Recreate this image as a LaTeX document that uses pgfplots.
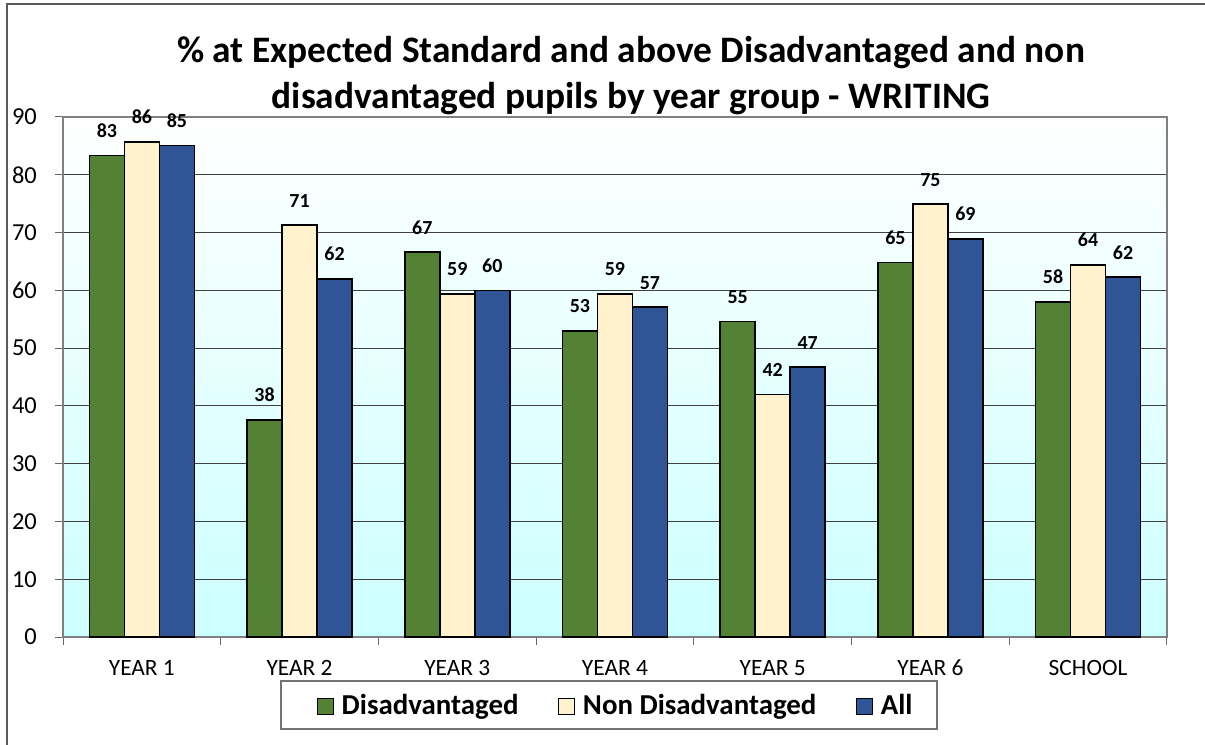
\documentclass[border=0pt]{standalone}
\usepackage{fontspec}
\setmainfont{Carlito}
\usepackage{pgfplots}
\pgfplotsset{compat=1.18}
\definecolor{cgreen}{RGB}{84,130,53}
\definecolor{ccream}{RGB}{255,242,204}
\definecolor{cblue}{RGB}{47,85,151}
\definecolor{cbg}{RGB}{204,255,255}
\begin{document}
\begin{tikzpicture}
\path[use as bounding box] (0,0) rectangle (1205bp,745bp);
\draw[black!65, line width=1.5bp] (7bp,0) -- (7bp,741bp) -- (1205bp,741bp);
\node[font=\fontsize{37.5}{42}\selectfont\bfseries, anchor=base, inner sep=0pt] at (631bp,682bp) {\% at Expected Standard and above Disadvantaged and non};
\node[font=\fontsize{37.5}{42}\selectfont\bfseries, anchor=base, inner sep=0pt] at (631bp,636bp) {disadvantaged pupils by year group - WRITING};
\draw[black!55, line width=1.2bp] (281bp,16bp) rectangle (937bp,64bp);
\begin{axis}[
  at={(63bp,108bp)}, anchor=south west,
  scale only axis, width=1104bp, height=520bp,
  xmin=-0.5, xmax=6.5, ymin=0, ymax=90,
  ytick={0,10,...,90},
  xtick={0,...,6},
  xticklabels={YEAR 1,YEAR 2,YEAR 3,YEAR 4,YEAR 5,YEAR 6,SCHOOL},
  minor xtick={-0.5,0.5,...,6.5},
  tick pos=left,
  tick align=outside,
  major tick length=8bp, minor tick length=8bp,
  major x tick style={draw=none},
  every tick/.style={black!60, line width=1bp},
  /pgf/number format/assume math mode=true,
  yticklabel style={font=\fontsize{24.5}{28}\selectfont, anchor=east, inner sep=0pt, xshift=-18bp},
  xticklabel style={font=\fontsize{23.5}{28}\selectfont, anchor=base, inner sep=0pt, yshift=-30bp},
  ymajorgrids,
  major grid style={black!75, line width=1bp},
  axis line style={black!50, line width=1.2bp},
  axis background/.style={shade, top color=white, bottom color=cbg},
  ybar=0pt, bar width=35bp,
  clip=false,
  point meta=y,
  nodes near coords={\pgfmathprintnumber[fixed,precision=0]{\pgfplotspointmeta}},
  every node near coord/.append style={font=\fontsize{20}{24}\selectfont\bfseries, anchor=base, inner sep=0pt, yshift=18bp, black},
  legend columns=3,
  legend style={at={(0.2301,-0.1313)}, anchor=west, draw=none, fill=none, inner xsep=0pt, inner ysep=0pt,
    cells={anchor=base west},
    font=\fontsize{29}{32}\selectfont\bfseries,
    /tikz/every odd column/.append style={column sep=5.5bp},
    /tikz/every even column/.append style={column sep=38bp}},
  legend image code/.code={\draw[#1, draw=black, line width=1bp] (0bp,0bp) rectangle (16bp,16bp);},
]
\addplot[fill=cgreen, draw=black, line width=1.5bp] coordinates {(0,83.3) (1,37.6) (2,66.6) (3,53.0) (4,54.6) (5,64.8) (6,58.0)};
\addplot[fill=ccream, draw=black, line width=1.5bp] coordinates {(0,85.7) (1,71.3) (2,59.4) (3,59.4) (4,42.0) (5,74.9) (6,64.4)};
\addplot[fill=cblue, draw=black, line width=1.5bp] coordinates {(0,85.1) (1,62.0) (2,60.0) (3,57.1) (4,46.7) (5,68.9) (6,62.3)};
\legend{Disadvantaged, Non Disadvantaged, All}
\end{axis}
\end{tikzpicture}
\end{document}
